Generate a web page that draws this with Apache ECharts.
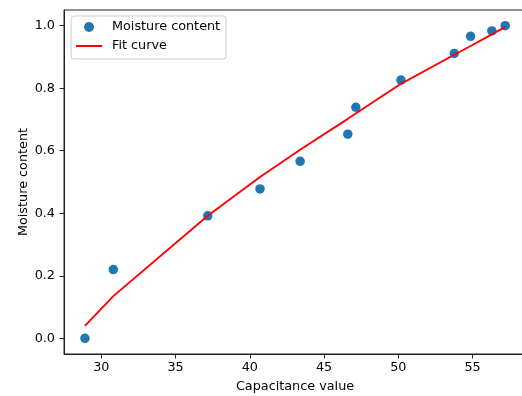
<!DOCTYPE html>
<html>
<head>
<meta charset="utf-8">
<script src="https://cdn.jsdelivr.net/npm/echarts@6/dist/echarts.min.js"></script>
<style>html,body{margin:0;padding:0;background:#fff}#c{width:522px;height:396px}</style>
</head>
<body>
<div id="c"></div>
<script>
const capacitance = [28.90, 30.81, 37.17, 40.69, 43.39, 46.60, 47.14, 50.18, 53.77, 54.87, 56.30, 57.20];
const moisture    = [0.000, 0.220, 0.392, 0.478, 0.566, 0.653, 0.739, 0.826, 0.911, 0.966, 0.983, 1.000];
const fitValues   = [0.040, 0.135, 0.392, 0.516, 0.603, 0.702, 0.719, 0.814, 0.907, 0.935, 0.972, 0.996];
const xTicks = [30, 35, 40, 45, 50, 55];
const yTicks = [0.0, 0.2, 0.4, 0.6, 0.8, 1.0];
const scatterName = 'Moisture content';
const fitName = 'Fit curve';
const xTitle = 'Capacitance value';
const yTitle = 'Moisture content';

const FONT = 'DejaVu Sans';
const FS = 12.8;
const chart = echarts.init(document.getElementById('c'), null, {renderer: 'canvas'});
chart.setOption({
  animation: false,
  textStyle: {fontFamily: FONT},
  grid: {left: 64, top: 10, right: -4, bottom: 42, show: true, borderColor: '#222', borderWidth: 1, containLabel: false, outerBoundsMode: 'none'},
  legend: {
    orient: 'vertical', left: 71, top: 16,
    padding: [4, 6, 6, 5], itemGap: 5,
    itemWidth: 26, itemHeight: 10,
    backgroundColor: 'rgba(255,255,255,0.8)', borderColor: '#ccc', borderWidth: 1, borderRadius: 3,
    textStyle: {fontFamily: FONT, fontSize: FS, color: '#000', lineHeight: 14, padding: [0, 0, 0, 5]},
    data: [
      {name: scatterName, icon: 'circle'},
      {name: fitName, icon: 'path://M0,0 L26,0 L26,2 L0,2 Z'}
    ]
  },
  xAxis: {
    type: 'value', min: 27.49, max: 58.6,
    name: xTitle, nameLocation: 'middle', nameGap: 26.5, nameMoveOverlap: false,
    nameTextStyle: {fontFamily: FONT, fontSize: FS, color: '#000'},
    axisLine: {show: true, onZero: false, lineStyle: {color: '#222', width: 1}},
    axisTick: {show: true, length: 4.5, lineStyle: {color: '#222', width: 1}, customValues: xTicks},
    axisLabel: {fontFamily: FONT, fontSize: FS, color: '#000', margin: 7, customValues: xTicks, formatter: v => String(Math.round(v))},
    splitLine: {show: false}
  },
  yAxis: {
    type: 'value', min: -0.05, max: 1.05,
    name: yTitle, nameLocation: 'middle', nameGap: 34, nameRotate: 90, nameMoveOverlap: false,
    nameTextStyle: {fontFamily: FONT, fontSize: FS, color: '#000'},
    axisLine: {show: true, onZero: false, lineStyle: {color: '#222', width: 1}},
    axisTick: {show: true, length: 4.5, lineStyle: {color: '#222', width: 1}, customValues: yTicks},
    axisLabel: {fontFamily: FONT, fontSize: FS, color: '#000', margin: 9, customValues: yTicks, formatter: v => v.toFixed(1)},
    splitLine: {show: false}
  },
  series: [
    {
      name: scatterName, type: 'scatter', symbol: 'circle', symbolSize: 9.5,
      itemStyle: {color: '#1f77b4', opacity: 1},
      data: capacitance.map((x, i) => [x, moisture[i]])
    },
    {
      name: fitName, type: 'line', symbol: 'none', smooth: false,
      lineStyle: {color: '#ff0000', width: 1.9}, itemStyle: {color: '#ff0000'},
      data: capacitance.map((x, i) => [x, fitValues[i]])
    }
  ]
});
</script>
</body>
</html>
